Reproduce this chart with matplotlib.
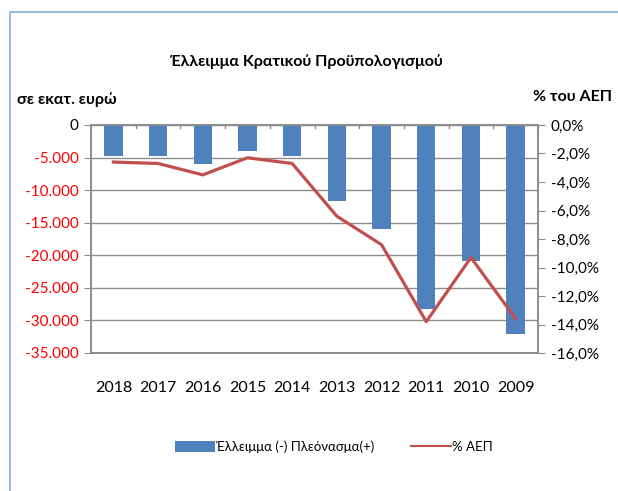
import matplotlib
matplotlib.use('Agg')
import matplotlib.pyplot as plt
from matplotlib.patches import Rectangle, Patch
from matplotlib.lines import Line2D
from matplotlib.ticker import FuncFormatter

plt.rcParams['font.family'] = ['Lato', 'Open Sans', 'DejaVu Sans']

years = ['2018', '2017', '2016', '2015', '2014', '2013', '2012', '2011', '2010', '2009']
deficit = [-4700, -4700, -6000, -4000, -4700, -11600, -16000, -28300, -20900, -32100]
pct_gdp = [-2.6, -2.7, -3.5, -2.3, -2.7, -6.4, -8.4, -13.8, -9.3, -13.6]

left_ticks = [0, -5000, -10000, -15000, -20000, -25000, -30000, -35000]
right_ticks = [0, -2, -4, -6, -8, -10, -12, -14, -16]

BLUE = '#4F81BD'
RED = '#C0504D'
GRID = '#8C8C8C'

fig = plt.figure(figsize=(6.18, 4.91), dpi=100)

# chart area frame (only top/left edges visible in the picture)
fig.patches.append(Rectangle((10 / 618, -0.1), 1.2, 1 - 12 / 491 + 0.1,
                             transform=fig.transFigure, fill=False,
                             edgecolor='#8DB4E2', linewidth=1.3))

ax1 = fig.add_axes([91 / 618, 1 - 353 / 491, 447 / 618, 228 / 491])
x = list(range(len(years)))
ax1.bar(x, deficit, width=0.41, color=BLUE, zorder=2)
ax1.set_xlim(-0.5, len(years) - 0.5)
ax1.set_ylim(-35000, 0)
ax1.set_yticks(left_ticks)
ax1.yaxis.set_major_formatter(FuncFormatter(lambda v, p: f'{int(v):,}'.replace(',', '.')))
ax1.grid(axis='y', color=GRID, linewidth=1, zorder=0)
ax1.set_axisbelow(True)
for s in ax1.spines.values():
    s.set_color(GRID)
    s.set_linewidth(1.2)
ax1.tick_params(axis='y', length=5, color=GRID, labelsize=11, pad=4)
for lbl, v in zip(ax1.get_yticklabels(), left_ticks):
    lbl.set_color('black' if v == 0 else 'red')

# year labels below the plot, category tick marks at the zero line
ax1.set_xticks(x)
ax1.set_xticklabels(years)
ax1.tick_params(axis='x', length=0, labelsize=11.5, pad=20)
for b in range(len(years) + 1):
    ax1.plot([b - 0.5, b - 0.5], [0, -450], color=GRID, linewidth=1, zorder=3, clip_on=False)

ax2 = ax1.twinx()
ax2.plot(x, pct_gdp, color=RED, linewidth=2.3, zorder=4)
ax2.set_ylim(-16, 0)
ax2.set_yticks(right_ticks)
ax2.yaxis.set_major_formatter(FuncFormatter(lambda v, p: f'{v:.1f}%'.replace('.', ',')))
ax2.tick_params(axis='y', length=5, color=GRID, labelsize=11, pad=4)
for s in ax2.spines.values():
    s.set_color(GRID)
    s.set_linewidth(1.2)

fig.text(306 / 618, 1 - 62 / 491, 'Έλλειμμα Κρατικού Προϋπολογισμού',
         ha='center', va='center', fontsize=11.5, fontweight='bold')
fig.text(17 / 618, 1 - 100 / 491, 'σε εκατ. ευρώ', ha='left', va='center',
         fontsize=11.5, fontweight='bold')
fig.text(612 / 618, 1 - 97 / 491, '% του ΑΕΠ', ha='right', va='center',
         fontsize=11.5, fontweight='bold')

handles = [Patch(facecolor=BLUE, edgecolor='none', label='Έλλειμμα (-) Πλεόνασμα(+)'),
           Line2D([0], [0], color=RED, linewidth=1.5, label='% ΑΕΠ')]
fig.legend(handles=handles, loc='center', bbox_to_anchor=(334 / 618, 1 - 447 / 491),
           ncol=2, frameon=False, fontsize=9.5, handlelength=3.0, handleheight=0.9,
           handletextpad=0.1, columnspacing=2.8)

fig.savefig('out.png', dpi=100)
